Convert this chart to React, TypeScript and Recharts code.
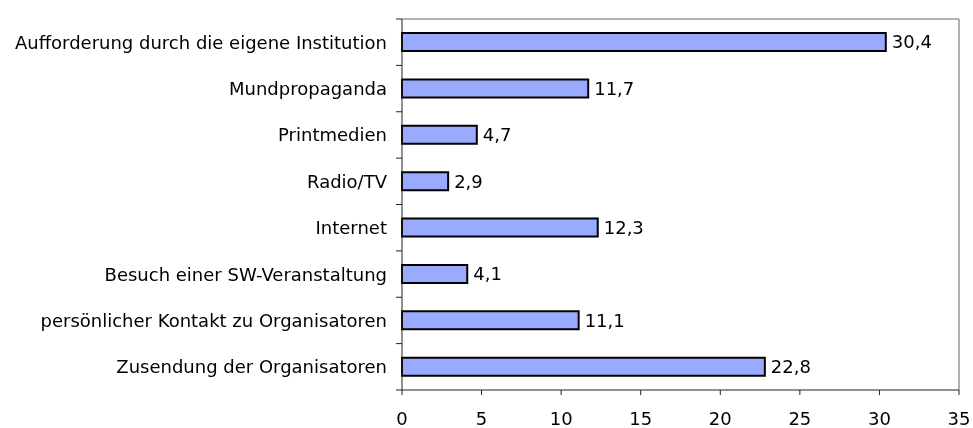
import React from "react";
import { BarChart, Bar, XAxis, YAxis, LabelList, CartesianGrid } from "recharts";

const categories = [
  "Aufforderung durch die eigene Institution",
  "Mundpropaganda",
  "Printmedien",
  "Radio/TV",
  "Internet",
  "Besuch einer SW-Veranstaltung",
  "persönlicher Kontakt zu Organisatoren",
  "Zusendung der Organisatoren",
];
const values = [30.4, 11.7, 4.7, 2.9, 12.3, 4.1, 11.1, 22.8];
const xTicks = [0, 5, 10, 15, 20, 25, 30, 35];

const data = categories.map((name, i) => ({ name, value: values[i] }));

const W = 965;
const H = 420;
const M = { top: 11, right: 14, bottom: 0, left: 0 };
const YW = 394;
const XH = 38;
const PLOT_H = H - M.top - M.bottom - XH;
const BAND = PLOT_H / categories.length;
const FONT = "'DejaVu Sans', Verdana, sans-serif";
const FS = 18;

const YTick = (props: any) => {
  const { x, y, payload, index } = props;
  const half = BAND / 2;
  return (
    <g>
      <text
        x={x - 15}
        y={y}
        dy="0.36em"
        textAnchor="end"
        fill="#000"
        fontSize={FS}
        fontFamily={FONT}
      >
        {payload.value}
      </text>
      <line x1={x - 6} x2={x} y1={y - half} y2={y - half} stroke="#222" strokeWidth={1} />
      {index === categories.length - 1 && (
        <line x1={x - 6} x2={x} y1={y + half} y2={y + half} stroke="#222" strokeWidth={1} />
      )}
    </g>
  );
};

const fmt = (v: any) => Number(v).toFixed(1).replace(".", ",");

export default function App() {
  return (
    <div style={{ position: "fixed", left: 8, top: 8, width: W, height: H }}>
      <BarChart width={W} height={H} data={data} layout="vertical" margin={M}>
        <CartesianGrid
          stroke="#999"
          strokeWidth={1.5}
          horizontalCoordinatesGenerator={({ offset }: any) => [offset.top]}
          verticalCoordinatesGenerator={({ offset }: any) => [offset.left + offset.width]}
        />
        <XAxis
          type="number"
          domain={[0, 35]}
          ticks={xTicks}
          interval={0}
          axisLine={{ stroke: "#222", strokeWidth: 1 }}
          tickLine={{ stroke: "#222" }}
          tickSize={5}
          tickMargin={17}
          height={XH}
          tick={{ fill: "#000", fontSize: FS, fontFamily: FONT }}
        />
        <YAxis
          type="category"
          dataKey="name"
          width={YW}
          tickSize={0}
          tickMargin={0}
          tickLine={false}
          interval={0}
          axisLine={{ stroke: "#222", strokeWidth: 1 }}
          tick={<YTick />}
        />
        <Bar
          dataKey="value"
          fill="#9AABFF"
          stroke="#000"
          strokeWidth={2}
          barSize={18}
          isAnimationActive={false}
        >
          <LabelList
            dataKey="value"
            position="right"
            offset={6}
            formatter={fmt}
            fill="#000"
            fontSize={FS}
            fontFamily={FONT}
          />
        </Bar>
      </BarChart>
    </div>
  );
}
